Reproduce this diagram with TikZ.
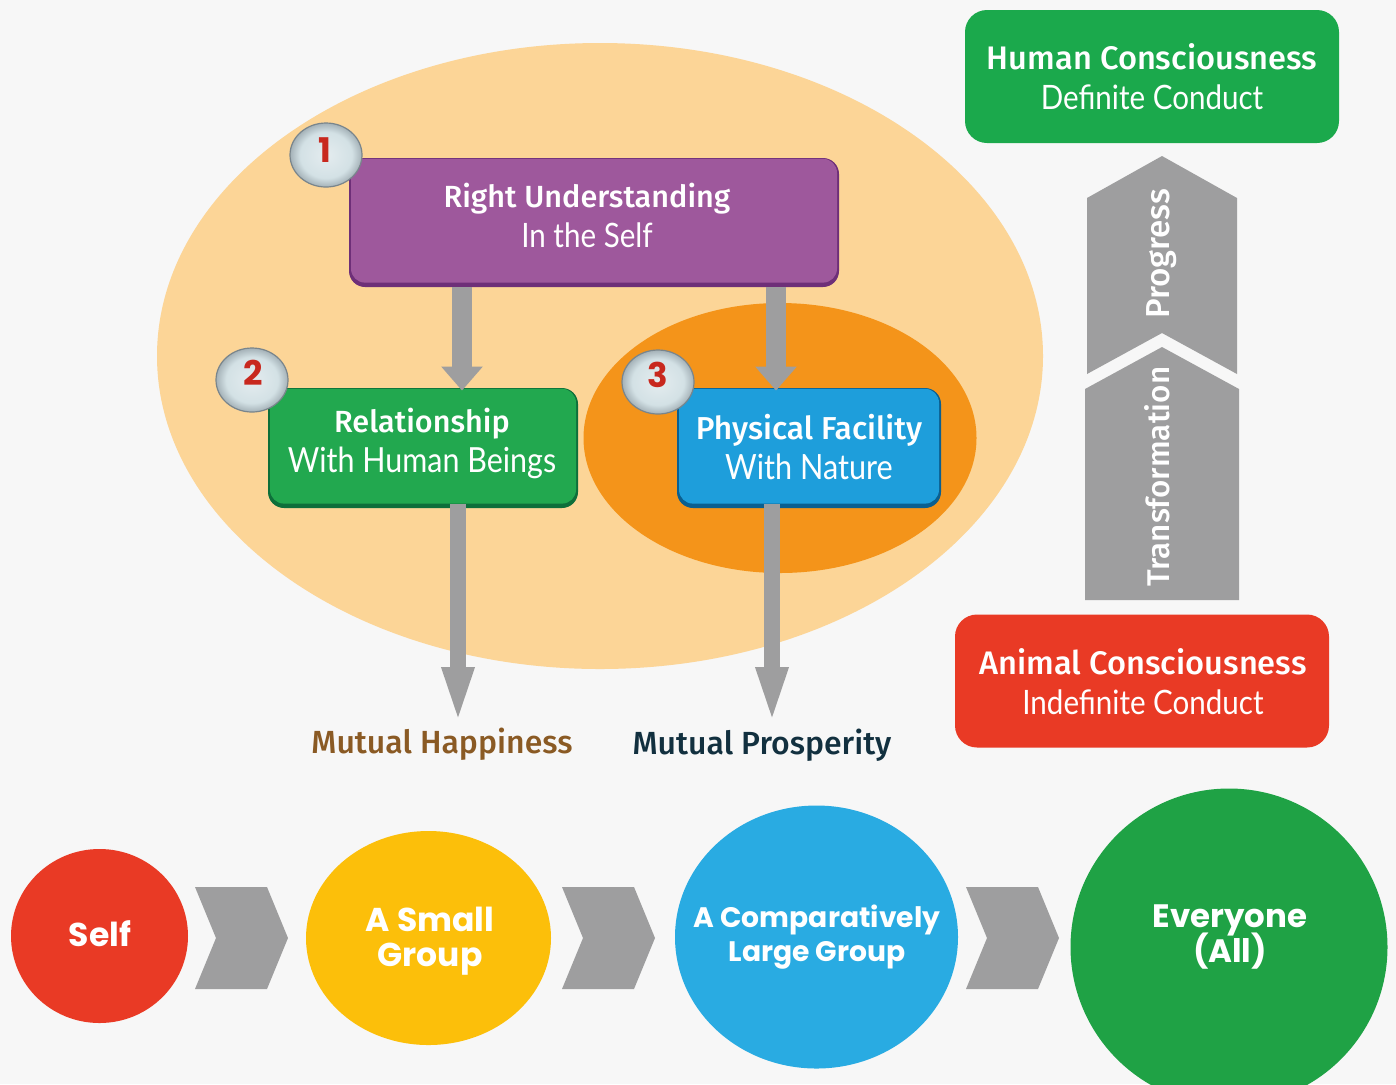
\documentclass[tikz,border=0pt]{standalone}
\usepackage{fontspec}
\usetikzlibrary{arrows.meta,shapes.geometric}
\setmainfont{Fira Sans}[UprightFont={* Medium}]
\newfontfamily\lightf{Lato}[FakeStretch=0.88]
\newfontfamily\roundf{Poppins}
\AtBeginDocument{\lineskiplimit=-100pt\relax}
\definecolor{bgc}{HTML}{F7F7F7}
\definecolor{peach}{HTML}{FCD597}
\definecolor{orangec}{HTML}{F4941A}
\definecolor{grayc}{HTML}{9E9E9F}
\definecolor{redc}{HTML}{E93A25}
\definecolor{yellowc}{HTML}{FCBF0A}
\definecolor{bluec}{HTML}{29ABE2}
\definecolor{greenc}{HTML}{1BA94C}
\definecolor{greenr}{HTML}{1FA245}
\definecolor{purplec}{HTML}{9E589C}
\definecolor{purpled}{HTML}{6E2F78}
\definecolor{greenb}{HTML}{22A84F}
\definecolor{greend}{HTML}{0E6F3A}
\definecolor{blueb}{HTML}{1E9EDB}
\definecolor{blued}{HTML}{0B5F8F}
\definecolor{numred}{HTML}{C8281E}
\definecolor{ballA}{HTML}{E4ECEF}
\definecolor{ballB}{HTML}{D3E1E5}
\definecolor{ballC}{HTML}{A4B1B7}
\definecolor{ballD}{HTML}{66727A}
\pgfdeclareradialshading{ballshade}{\pgfpoint{0bp}{0bp}}{
  color(0bp)=(ballA); color(18bp)=(ballB); color(25bp)=(ballC); color(30bp)=(ballD); color(50bp)=(ballD)}
\newcommand{\tsize}[1]{\fontsize{#1}{20}\selectfont}
\newcommand{\lsize}[1]{\lightf\fontsize{#1}{20}\selectfont}
\tikzset{
  x=0.5pt,y=-0.5pt,
  tile/.style args={#1/#2/#3/#4}{rectangle,rounded corners=8pt,inner sep=0pt,fill=#2,
    minimum width=#3*0.5pt,minimum height=#4*0.5pt,
    path picture={\fill[#1,rounded corners=7pt]
      ([xshift=1pt,yshift=2.2pt]path picture bounding box.south west) rectangle
      ([xshift=-1pt,yshift=-0.4pt]path picture bounding box.north east);}},
  flat/.style={rectangle,rounded corners=11pt,inner sep=0pt,minimum width=187pt,minimum height=66.5pt},
  boxtext/.style={text=white,align=center,inner sep=0pt,font=\fontsize{16}{20}\selectfont},
  badge/.style={ellipse,inner sep=0pt,minimum width=36pt,minimum height=32pt,shading=ballshade,draw=ballD!70!ballC,line width=0.6pt},
  digit/.style={inner sep=0pt,font=\roundf\bfseries\fontsize{17}{17}\selectfont,text=numred},
  stage/.style={ellipse,inner sep=0pt},
  stagetext/.style={inner sep=0pt,text=white,align=center},
  chev/.style={fill=grayc},
  blockA/.style={draw=grayc,line width=10pt,-{Triangle[length=12pt,width=20pt,color=grayc]}},
  blockB/.style={draw=grayc,line width=8pt,-{Triangle[length=30pt,width=14pt,color=grayc]}},
  outcome/.style={font=\fontsize{16}{16}\selectfont,inner sep=0pt},
  vert/.style={rotate=90,text=white,inner sep=0pt}
}
\begin{document}
\begin{tikzpicture}
\useasboundingbox (0,0) rectangle (1396,1084);
\fill[bgc] (0,0) rectangle (1396,1084);
\begin{scope}
\clip (0,0) rectangle (1396,1084);
% ellipses
\node[ellipse,fill=peach,inner sep=0pt,minimum width=443pt,minimum height=313pt] (outer) at (600,356) {};
\node[ellipse,fill=orangec,inner sep=0pt,minimum width=196.5pt,minimum height=135pt] (inner) at (780,438) {};
% main boxes
\node[tile=purplec/purpled/490/129] (b1) at (594,222.5) {};
\node[tile=greenb/greend/310/120] (b2) at (423,448) {};
\node[tile=blueb/blued/264/120] (b3) at (809,448) {};
\node[boxtext] (b1t) at (587,215) {\tsize{15.3}Right Understanding\\{\lsize{16.8}In the Self}};
\node[boxtext] (b2t) at (422,443) {\tsize{15.3}Relationship\\{\lsize{17.3}With Human Beings}};
\node[boxtext] (b3t) at (809,447) {\tsize{15.85}Physical Facility\\{\lsize{17.4}With Nature}};
% arrows
\coordinate (xa) at (462,0);
\coordinate (xb) at (776,0);
\coordinate (xc) at (458,0);
\coordinate (xd) at (772,0);
\coordinate (ha) at (458,727);
\coordinate (pr) at (772,727);
\draw[blockA] (b1.south -| xa) -- ([yshift=-1.5pt]b2.north -| xa);
\draw[blockA] (b1.south -| xb) -- ([yshift=-1.5pt]b3.north -| xb);
\draw[blockB] ([yshift=2pt]b2.south -| xc) -- (ha);
\draw[blockB] ([yshift=2pt]b3.south -| xd) -- (pr);
% badges
\node[badge] (n1) at (326,155) {};
\node[badge] (n2) at (252,380) {};
\node[badge] (n3) at (658,382) {};
\node[digit] (d1) at (325,150) {1};
\node[digit] (d2) at (253,373) {2};
\node[digit] (d3) at (658,375) {3};
% outcomes
\node[outcome,text={rgb,255:red,138;green,90;blue,36}] (mh) at (442,744) {Mutual Happiness};
\node[outcome,text={rgb,255:red,18;green,48;blue,63}] (mp) at (762,745) {Mutual Prosperity};
% right column
\node[flat,fill=greenc] (hc) at (1152,76.5) {};
\node[boxtext] (hct) at (1152,77) {\tsize{16.3}Human Consciousness\\{\lsize{16.8}Definite Conduct}};
\node[flat,fill=redc] (ac) at (1142,681) {};
\node[boxtext] (act) at (1143,682) {\tsize{16.3}Animal Consciousness\\{\lsize{16.8}Indefinite Conduct}};
\fill[grayc] (1162,156) -- (1237,198) -- (1237,374) -- (1162,333) -- (1087,374) -- (1087,198) -- cycle;
\fill[grayc] (1162,347) -- (1239,389) -- (1239,600) -- (1085,600) -- (1085,389) -- cycle;
\node[vert,font=\fontsize{16.6}{16.6}\selectfont] (pg) at (1162,254) {Progress};
\node[vert,font=\fontsize{15.7}{15.7}\selectfont] (tr) at (1157,476.5) {Transformation};
% stages
\node[stage,fill=redc,minimum width=88.5pt,minimum height=87pt] (s1) at (99.5,936) {};
\node[stage,fill=yellowc,minimum width=122.5pt,minimum height=107pt] (s2) at (428.5,938) {};
\node[stage,fill=bluec,minimum width=141.5pt,minimum height=131.5pt] (s3) at (816.5,937) {};
\node[stage,fill=greenr,minimum width=158.5pt,minimum height=158.5pt] (s4) at (1229,947) {};
\node[stagetext,font=\roundf\bfseries\fontsize{16.5}{17.5}\selectfont] (s1t) at (100,934) {Self};
\node[stagetext,font=\roundf\bfseries\fontsize{16.5}{17.5}\selectfont] (s2t) at (430,941) {A Small\\Group};
\node[stagetext,font=\roundf\bfseries\fontsize{14.1}{17.2}\selectfont] (s3t) at (817,937) {A Comparatively\\Large Group};
\node[stagetext,font=\roundf\bfseries\fontsize{16.2}{17.4}\selectfont] (s4t) at (1230,937) {Everyone\\(All)};
\foreach \d in {0,367,771}{
  \fill[chev] (195+\d,887) -- (267+\d,887) -- (288+\d,938) -- (267+\d,989) -- (195+\d,989) -- (216+\d,938) -- cycle;
}
\end{scope}
\end{tikzpicture}
\end{document}
